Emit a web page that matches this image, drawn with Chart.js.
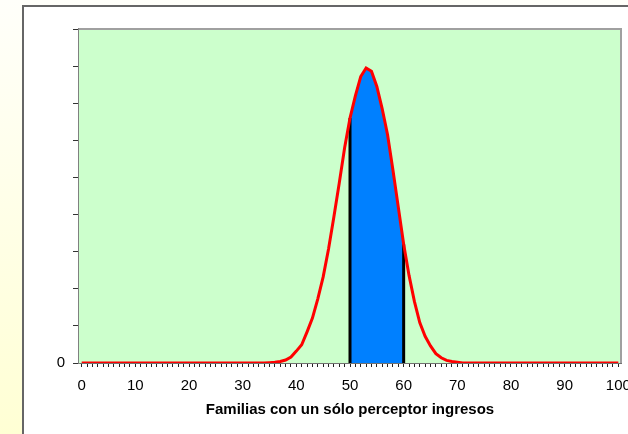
<!DOCTYPE html>
<html>
<head>
<meta charset="utf-8">
<script src="https://cdn.jsdelivr.net/npm/chart.js@4"></script>
<style>
  html, body { margin: 0; padding: 0; }
  body {
    width: 628px; height: 434px; overflow: hidden; position: relative;
    background: linear-gradient(#fffffa, #ffffd4);
  }
  #panel {
    position: absolute; left: 22px; top: 5px; right: 0; bottom: 0;
    background: #fff;
    border-left: 2px solid #666; border-top: 2px solid #666;
  }
  #chart { position: absolute; left: 0; top: 0; }
</style>
</head>
<body>
<div id="panel"></div>
<canvas id="chart" width="628" height="434"></canvas>
<script>
// x categories 0..100
const xValues = Array.from({ length: 101 }, (_, i) => i);

// curve height (axis runs 0..9)
const density = [
  0, 0, 0, 0, 0, 0, 0, 0, 0, 0,
  0, 0, 0, 0, 0, 0, 0, 0, 0, 0,
  0, 0, 0, 0, 0, 0, 0, 0, 0, 0,
  0, 0, 0, 0, 0, 0.01, 0.02, 0.04, 0.08, 0.16,
  0.32, 0.49, 0.84, 1.21, 1.73, 2.32, 3.07, 3.94, 4.85, 5.8,
  6.6, 7.2, 7.72, 7.95, 7.86, 7.45, 6.85, 6.15, 5.2, 4.2,
  3.2, 2.36, 1.66, 1.09, 0.72, 0.46, 0.25, 0.14, 0.07, 0.04,
  0.02, 0, 0, 0, 0, 0, 0, 0, 0, 0,
  0, 0, 0, 0, 0, 0, 0, 0, 0, 0,
  0, 0, 0, 0, 0, 0, 0, 0, 0, 0,
  0
];

const shadeFrom = 50;
const shadeTo = 60;
const xTickLabels = [0, 10, 20, 30, 40, 50, 60, 70, 80, 90, 100];
const xTitle = "Familias con un sólo perceptor ingresos";

const curve = xValues.map((x, i) => ({ x, y: density[i] }));
const shade = xValues.map((x, i) => ({ x, y: (x >= shadeFrom && x <= shadeTo) ? density[i] : null }));
const leftLine = [{ x: shadeFrom, y: 0 }, { x: shadeFrom, y: density[shadeFrom] }];
const rightLine = [{ x: shadeTo, y: 0 }, { x: shadeTo, y: density[shadeTo] }];

const plotBg = {
  id: "plotBg",
  beforeDatasetsDraw(chart) {
    const { ctx, chartArea: a } = chart;
    ctx.save();
    ctx.fillStyle = "#ccffcc";
    ctx.fillRect(a.left, a.top, a.right - a.left, a.bottom - a.top);
    ctx.strokeStyle = "#a0a0a0";
    ctx.lineWidth = 2;
    ctx.beginPath();
    ctx.moveTo(a.left, a.top);
    ctx.lineTo(a.right, a.top);
    ctx.lineTo(a.right, a.bottom);
    ctx.stroke();
    ctx.restore();
  }
};

const lineStyle = { pointRadius: 0, tension: 0, fill: false };

new Chart(document.getElementById("chart"), {
  type: "line",
  data: {
    datasets: [
      { ...lineStyle, data: curve, borderColor: "#ff0000", borderWidth: 3 },
      { ...lineStyle, data: leftLine, borderColor: "#000", borderWidth: 3 },
      { ...lineStyle, data: rightLine, borderColor: "#000", borderWidth: 3 },
      { ...lineStyle, data: shade, borderWidth: 0, borderColor: "rgba(0,0,0,0)",
        backgroundColor: "#0080ff", fill: "origin", spanGaps: false }
    ]
  },
  options: {
    responsive: false,
    animation: false,
    layout: { padding: { left: 0, top: 29, right: 7, bottom: 0 } },
    plugins: { legend: { display: false }, tooltip: { enabled: false } },
    scales: {
      x: {
        type: "linear",
        min: -0.5,
        max: 100.5,
        afterBuildTicks: (s) => { s.ticks = xValues.map(v => ({ value: v })); },
        afterFit: (s) => { s.height = 71; s.paddingLeft = 0; s.paddingRight = 0; },
        grid: { drawOnChartArea: false, drawTicks: true, tickLength: 4, color: "#222" },
        border: { display: true, color: "#707070", width: 2 },
        ticks: {
          autoSkip: false, maxRotation: 0, padding: 10, color: "#000",
          font: { family: "Liberation Sans, Arial", size: 15 },
          callback: (v) => xTickLabels.includes(v) ? String(v) : ""
        },
        title: {
          display: true, text: xTitle, color: "#000",
          font: { family: "Liberation Sans, Arial", size: 15, weight: "bold" },
          padding: { top: 0, bottom: 15 }
        }
      },
      y: {
        min: 0,
        max: 9,
        afterFit: (s) => { s.width = 79; },
        grid: { drawOnChartArea: false, drawTicks: true, tickLength: 6, color: "#333" },
        border: { display: true, color: "#808080", width: 2 },
        ticks: {
          stepSize: 1, padding: 8, color: "#000",
          font: { family: "Liberation Sans, Arial", size: 15 },
          callback: (v) => v === 0 ? "0" : ""
        }
      }
    }
  },
  plugins: [plotBg]
});
</script>
</body>
</html>
